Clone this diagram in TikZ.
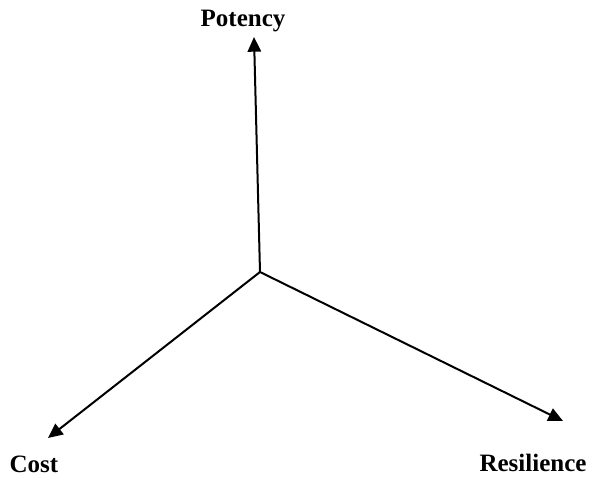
\documentclass[tikz,border=0pt]{standalone}
\usepackage{fontspec}
\setmainfont{Liberation Serif}
\usetikzlibrary{arrows.meta}

\begin{document}
\begin{tikzpicture}[x=0.75pt,y=-0.75pt,
		axis/.style={line width=1.5pt,-{Triangle[length=11pt,width=10pt]}},
		lbl/.style={font=\fontsize{18.75}{22}\selectfont\bfseries,anchor=base,inner sep=0pt}]
			\useasboundingbox (0,0) rectangle (592,479);
			\coordinate (o) at (260,272);
			\coordinate (tp) at (254,37);
			\coordinate (tc) at (48,438);
			\coordinate (tr) at (563,421);
			\node[lbl] (potency) at (243,26) {Potency};
			\node[lbl] (cost) at (34,472) {Cost};
			\node[lbl] (resilience) at (533,471) {Resilience};
			\draw [axis] (o) -- (tp);
			\draw [axis] (o) -- (tc);
			\draw [axis] (o) -- (tr);
		\end{tikzpicture}
\end{document}
